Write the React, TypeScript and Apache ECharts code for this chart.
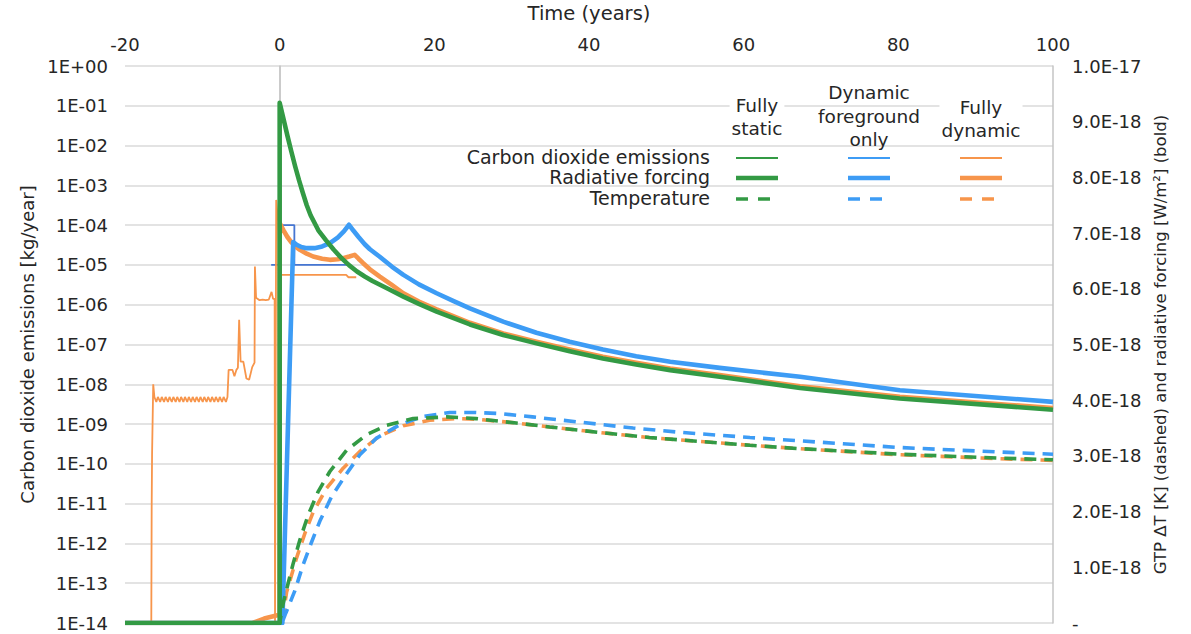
import React, { useEffect, useRef } from 'react';
import * as echarts from 'echarts';

// ---------- axis ticks ----------
const timeTicks = [-20, 0, 20, 40, 60, 80, 100];
const emissionDecades = [1e-14, 1e-13, 1e-12, 1e-11, 1e-10, 1e-9, 1e-8, 1e-7, 1e-6, 1e-5, 1e-4, 1e-3, 1e-2, 1e-1, 1];
const rightTicksE18 = [0, 1, 2, 3, 4, 5, 6, 7, 8, 9, 10];

// ---------- legend labels ----------
const scenarioNames = ['Fully\nstatic', 'Dynamic\nforeground\nonly', 'Fully\ndynamic'];
const quantityNames = ['Carbon dioxide emissions', 'Radiative forcing', 'Temperature'];

// ---------- CO2 emissions [kg/year] (left, log axis) : [time, value] ----------
const emissionStatic = [[-20, 1e-14], [0, 1e-14], [0, 5.3e-3], [0.05, 1e-14]];
const emissionFgDynamic = [[-1.1, 1e-5], [0, 1e-5], [0, 1e-4], [1.9, 1e-4], [1.9, 1e-5], [8.9, 1e-5]];
const emissionDynamic = [
  [-20, 1e-14], [-16.6, 1e-14], [-16.55, 8.5e-12], [-16.5, 1.7e-10], [-16.35, 1.0e-8], [-16.2, 4.8e-9],
  [-15.95, 3.6e-9], [-15.75, 4.8e-9], [-15.45, 3.6e-9], [-15.25, 4.8e-9], [-14.95, 3.6e-9], [-14.75, 4.8e-9],
  [-14.45, 3.6e-9], [-14.25, 4.8e-9], [-13.95, 3.6e-9], [-13.75, 4.8e-9], [-13.45, 3.6e-9], [-13.25, 4.8e-9],
  [-12.95, 3.6e-9], [-12.75, 4.8e-9], [-12.45, 3.6e-9], [-12.25, 4.8e-9], [-11.95, 3.6e-9], [-11.75, 4.8e-9],
  [-11.45, 3.6e-9], [-11.25, 4.8e-9], [-10.95, 3.6e-9], [-10.75, 4.8e-9], [-10.45, 3.6e-9], [-10.25, 4.8e-9],
  [-9.95, 3.6e-9], [-9.75, 4.8e-9], [-9.45, 3.6e-9], [-9.25, 4.8e-9], [-8.95, 3.6e-9], [-8.75, 4.8e-9],
  [-8.45, 3.6e-9], [-8.25, 4.8e-9], [-7.95, 3.6e-9], [-7.75, 4.8e-9], [-7.45, 3.6e-9], [-7.25, 4.8e-9],
  [-6.95, 3.6e-9], [-6.75, 4.8e-9],
  [-6.6, 2.3e-8], [-6.1, 2.3e-8], [-5.85, 1.6e-8], [-5.6, 2.3e-8], [-5.4, 2.6e-8], [-5.24, 4.2e-7],
  [-5.05, 3.7e-8], [-4.7, 3.7e-8], [-4.3, 1.4e-8], [-3.95, 1.3e-8], [-3.55, 2.7e-8], [-3.25, 3.5e-8],
  [-3.2, 9.1e-6], [-3.05, 1.5e-6], [-2.6, 1.3e-6], [-2.2, 1.35e-6], [-1.8, 1.3e-6], [-1.4, 1.35e-6],
  [-1.05, 2.1e-6], [-0.85, 1.4e-6], [-0.65, 1.4e-6], [-0.6, 1e-14], [-0.45, 4.3e-4], [-0.2, 1.2e-4],
  [0.1, 5.6e-6], [8.6, 5.6e-6], [8.9, 4.9e-6], [9.9, 4.9e-6],
];

// ---------- radiative forcing [1e-18 W/m2] (right axis, bold) ----------
const forcingStatic = [
  [-20, 0], [0, 0], [0, 9.34], [0.5, 9.05], [1.0, 8.75], [1.5, 8.47], [2.0, 8.2], [2.5, 7.95], [3.0, 7.72],
  [3.5, 7.5], [4.0, 7.32], [5.0, 7.05], [6.0, 6.87], [7.0, 6.7], [8.0, 6.55], [9.0, 6.42], [10.0, 6.31],
  [11.0, 6.22], [12.0, 6.14], [14.0, 6.0], [16.0, 5.86], [18.0, 5.73], [20.3, 5.59], [24.6, 5.36],
  [28.9, 5.17], [33.2, 5.02], [37.5, 4.88], [41.8, 4.75], [46.1, 4.64], [50.5, 4.54], [56.9, 4.42],
  [67.3, 4.22], [80.2, 4.03], [100, 3.83],
];
const forcingFgDynamic = [
  [-20, 0], [0.35, 0], [1.75, 6.84], [2.2, 6.79], [2.8, 6.75], [3.5, 6.73], [4.5, 6.73], [5.5, 6.76],
  [6.5, 6.82], [7.5, 6.92], [8.3, 7.03], [8.97, 7.15], [9.5, 7.05], [10.2, 6.93], [11.0, 6.8],
  [11.67, 6.71], [12.9, 6.58], [14.5, 6.4], [16.0, 6.25], [18.0, 6.08], [20.3, 5.92], [22.5, 5.78],
  [24.6, 5.65], [28.9, 5.41], [33.2, 5.21], [37.5, 5.05], [41.8, 4.91], [46.1, 4.79], [50.5, 4.69],
  [56.9, 4.58], [67.3, 4.42], [80.2, 4.18], [100, 3.97],
];
const forcingDynamic = [
  [-20, 0], [-3.5, 0], [-2, 0.08], [-0.3, 0.14], [0, 0.14], [0, 7.18], [0.5, 7.05], [1.0, 6.93],
  [1.54, 6.83], [2.0, 6.76], [2.61, 6.7], [3.5, 6.63], [4.33, 6.58], [5.5, 6.54], [6.5, 6.52],
  [7.5, 6.53], [8.2, 6.55], [9.0, 6.58], [9.7, 6.61], [10.2, 6.54], [10.8, 6.46], [11.67, 6.35],
  [12.95, 6.22], [14.5, 6.07], [16.0, 5.92], [18.0, 5.77], [20.3, 5.63], [24.6, 5.39], [28.9, 5.2],
  [33.2, 5.05], [37.5, 4.91], [41.8, 4.78], [46.1, 4.67], [50.5, 4.57], [56.9, 4.45], [67.3, 4.25],
  [80.2, 4.06], [100, 3.86],
];

// ---------- GTP temperature change [1e-18 K] (right axis, dashed) ----------
const temperatureStatic = [
  [-20, 0], [0, 0], [0.45, 0.35], [1.0, 0.66], [1.75, 1.07], [2.61, 1.49], [3.69, 1.94], [4.98, 2.36],
  [6.49, 2.72], [8.65, 3.1], [11.24, 3.38], [13.83, 3.55], [17.26, 3.67], [21.58, 3.7], [25.4, 3.67],
  [30.6, 3.59], [34.9, 3.52], [41.4, 3.42], [47.8, 3.33], [54.3, 3.26], [60.8, 3.19], [67.3, 3.13],
  [80.2, 3.03], [93.1, 2.96], [100, 2.93],
];
const temperatureFgDynamic = [
  [-20, 0], [0.3, 0], [0.8, 0.18], [1.97, 0.58], [3.04, 1.05], [4.12, 1.45], [5.2, 1.83], [6.71, 2.27],
  [8.65, 2.68], [10.37, 3.02], [12.53, 3.32], [15.54, 3.56], [18.56, 3.71], [22.0, 3.78], [25.4, 3.78],
  [28.5, 3.76], [32.7, 3.7], [39.2, 3.6], [45.7, 3.5], [52.1, 3.42], [60.8, 3.33], [67.3, 3.27],
  [80.2, 3.15], [93.1, 3.07], [100, 3.03],
];
const temperatureDynamic = [
  [-20, 0], [0.3, 0], [0.89, 0.55], [2.19, 1.17], [3.26, 1.61], [4.33, 1.99], [6.07, 2.42], [8.21, 2.78],
  [10.37, 3.08], [12.95, 3.36], [15.97, 3.54], [19.4, 3.64], [22.9, 3.67], [25.4, 3.66], [30.6, 3.59],
  [34.9, 3.52], [41.4, 3.42], [47.8, 3.33], [54.3, 3.26], [60.8, 3.19], [67.3, 3.13], [80.2, 3.02],
  [93.1, 2.95], [100, 2.92],
];

const GREEN = '#339a44';
const BLUE = '#3d9cf5';
const BLUE_THIN = '#4676d2';
const ORANGE = '#f7954b';
const TEXT = '#262626';
const FONT = '"DejaVu Sans", "Open Sans", sans-serif';

function fmtLog(v: number) {
  const e = Math.round(Math.log10(v));
  const a = Math.abs(e);
  return '1E' + (e >= 0 ? '+' : '-') + (a < 10 ? '0' + a : String(a));
}
function fmtRight(v: number) {
  if (Math.abs(v) < 1e-9) return '-';
  if (Math.abs(v - 10) < 1e-9) return '1.0E-17';
  return v.toFixed(1) + 'E-18';
}

export default function App() {
  const ref = useRef<HTMLDivElement>(null);
  useEffect(() => {
    if (!ref.current) return;
    const chart = echarts.init(ref.current, undefined, { renderer: 'svg' });

    const thin = (name: string, data: number[][], color: string, extra: any = {}) => ({
      name, type: 'line', data, yAxisIndex: 0, showSymbol: false, symbol: 'none', silent: true,
      lineStyle: { color, width: 1.8 }, z: 2, ...extra,
    });
    const bold = (name: string, data: number[][], color: string, z: number) => ({
      name, type: 'line', data, yAxisIndex: 1, showSymbol: false, symbol: 'none', silent: true,
      lineStyle: { color, width: 4.6, join: 'round' }, z,
    });
    const dashed = (name: string, data: number[][], color: string, z: number, offset: number) => ({
      name, type: 'line', data, yAxisIndex: 1, showSymbol: false, symbol: 'none', silent: true,
      lineStyle: { color, width: 3.6, type: [12, 8], dashOffset: offset, cap: 'butt' }, z,
    });

    const legendCols = [757, 869, 981];
    const legendColors = [GREEN, BLUE, ORANGE];
    const rowY = [157, 177, 198];
    const headerY = [117, 116, 119];
    const graphics: any[] = [];
    scenarioNames.forEach((t, i) => {
      graphics.push({
        type: 'text', x: legendCols[i], y: headerY[i], silent: true, z: 10,
        style: {
          text: t, fontSize: 18.5, fontFamily: FONT, fill: TEXT, align: 'center', verticalAlign: 'middle', lineHeight: 23.5,
          backgroundColor: i === 1 ? undefined : '#fff', padding: [0, 2],
        },
      });
    });
    quantityNames.forEach((t, r) => {
      graphics.push({
        type: 'text', x: 710, y: rowY[r], silent: true, z: 10,
        style: { text: t, fontSize: 19, lineHeight: 19, fontFamily: FONT, fill: TEXT, align: 'right', verticalAlign: 'middle' },
      });
      legendCols.forEach((cx, i) => {
        const style: any = { stroke: legendColors[i], lineWidth: r === 0 ? 1.8 : r === 1 ? 4.6 : 3.6 };
        if (r === 2) style.lineDash = [12, 10];
        graphics.push({
          type: 'line', silent: true, z: 10,
          shape: { x1: cx - 21, y1: rowY[r] + 1, x2: cx + 21, y2: rowY[r] + 1 },
          style,
        });
      });
    });

    chart.setOption({
      animation: false,
      textStyle: { fontFamily: FONT },
      grid: { left: 125, right: 138, top: 66, bottom: 11, containLabel: false, outerBoundsMode: 'none' },
      xAxis: {
        type: 'value', position: 'top', min: -20, max: 100, interval: 20,
        name: 'Time (years)', nameLocation: 'middle', nameGap: 43,
        nameTextStyle: { fontSize: 19.5, color: TEXT, fontFamily: FONT },
        axisLine: { show: false }, axisTick: { show: false }, splitLine: { show: false },
        axisLabel: { fontSize: 18, color: TEXT, fontFamily: FONT, margin: 13, customValues: timeTicks },
      },
      yAxis: [
        {
          type: 'log', logBase: 10, min: 1e-14, max: 1, interval: 1, splitNumber: 14,
          name: 'Carbon dioxide emissions [kg/year]', nameLocation: 'middle', nameGap: 86,
          nameTextStyle: { fontSize: 18, color: TEXT, fontFamily: FONT },
          axisLine: { show: true, lineStyle: { color: '#c4c4c4', width: 1.5 } },
          axisTick: { show: false, customValues: emissionDecades },
          splitLine: { show: true, lineStyle: { color: '#dadada', width: 1.5 } },
          axisLabel: { fontSize: 18, color: TEXT, fontFamily: FONT, margin: 17, formatter: fmtLog, customValues: emissionDecades },
        },
        {
          type: 'value', min: 0, max: 10, interval: 1, position: 'right',
          name: 'GTP ΔT [K] (dashed) and radiative forcing [W/m²] (bold)', nameLocation: 'middle', nameGap: 96,
          nameRotate: 90,
          nameTextStyle: { fontSize: 16.5, color: TEXT, fontFamily: FONT },
          axisLine: { show: true, lineStyle: { color: '#c4c4c4', width: 1.5 } },
          axisTick: { show: false }, splitLine: { show: false },
          axisLabel: { fontSize: 18, color: TEXT, fontFamily: FONT, margin: 19, formatter: fmtRight, customValues: rightTicksE18 },
        },
      ],
      series: [
        thin('Fully static – emissions', emissionStatic, GREEN, {
          markLine: {
            silent: true, symbol: 'none', label: { show: false },
            lineStyle: { color: '#c8c8c8', width: 1.5, type: 'solid' },
            data: [{ xAxis: 0 }],
          },
          z: 1,
        }),
        thin('Dynamic foreground only – emissions', emissionFgDynamic, BLUE_THIN),
        thin('Fully dynamic – emissions', emissionDynamic, ORANGE),
        bold('Fully dynamic – forcing', forcingDynamic, ORANGE, 3),
        bold('Dynamic foreground only – forcing', forcingFgDynamic, BLUE, 4),
        bold('Fully static – forcing', forcingStatic, GREEN, 5),
        dashed('Fully dynamic – temperature', temperatureDynamic, ORANGE, 3, 0),
        dashed('Dynamic foreground only – temperature', temperatureFgDynamic, BLUE, 4, 0),
        dashed('Fully static – temperature', temperatureStatic, GREEN, 5, 10),
      ],
      graphic: graphics,
    });
    return () => chart.dispose();
  }, []);
  return <div ref={ref} style={{ position: 'fixed', left: 0, top: 0, width: 1191, height: 634, background: '#fff' }} />;
}
